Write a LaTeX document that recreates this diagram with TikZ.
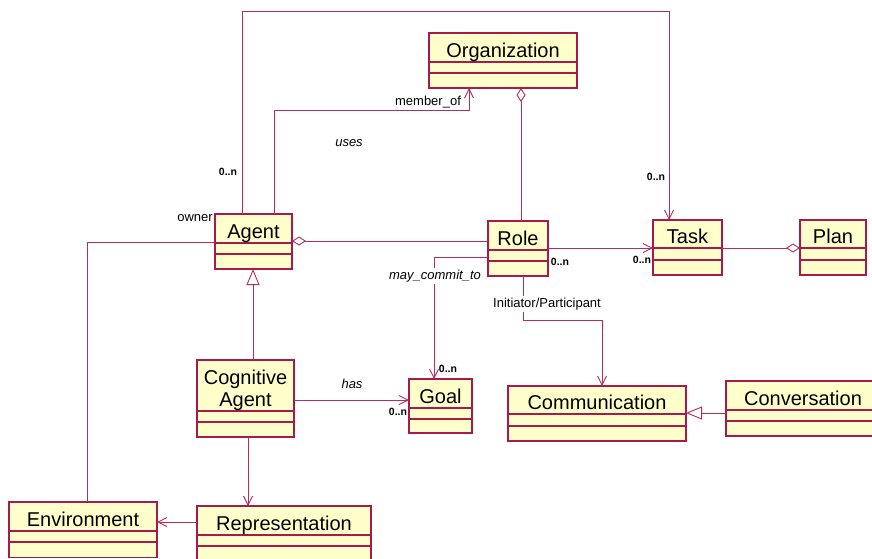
\documentclass[tikz,border=0pt]{standalone}
\usepackage{fontspec}
\setmainfont{Liberation Sans}
\usetikzlibrary{arrows.meta}

\definecolor{umlline}{RGB}{170,25,75}
\definecolor{umlconn}{RGB}{180,45,95}
\definecolor{umlfill}{RGB}{255,255,204}

\tikzset{
  classbox/.style={draw=umlline, line width=1.4pt, fill=umlfill, rectangle,
    inner sep=0pt, outer sep=0pt},
  classname/.style={font=\fontsize{20}{22}\selectfont, inner sep=0pt, anchor=base},
  sepline/.style={draw=umlline, line width=1.2pt},
  conn/.style={draw=umlconn, line width=0.9pt},
  navig/.style={conn, -{Straight Barb[length=9pt,width=9pt,line width=0.9pt]}},
  aggr/.style={conn, {Diamond[open,fill=white,length=14pt,width=9pt,line width=0.9pt]}-},
  gener/.style={conn, -{Triangle[open,fill=white,length=16pt,width=13pt,line width=0.9pt]}},
  lbl/.style={font=\fontsize{13}{15}\selectfont, inner sep=0pt},
  ilbl/.style={font=\fontsize{13}{15}\selectfont\itshape, inner sep=0pt},
  mult/.style={font=\fontsize{10.5}{12}\selectfont\bfseries, inner sep=0pt},
  cover/.style={fill=white, inner sep=1.5pt},
}

% UML class: name, x1, y1, x2, y2, first separator, second separator, title
\newcommand\umlclass[8]{%
  \node[classbox, minimum width={#4-#2}, minimum height={#5-#3}]
    (#1) at ({(#2+#4)/2},{(#3+#5)/2}) {};
  \draw[sepline] (#2,#6) -- (#4,#6);
  \draw[sepline] (#2,#7) -- (#4,#7);
  \node[classname] (#1-name) at ({(#2+#4)/2},{#6-4.5}) {#8};
}

\begin{document}
\begin{tikzpicture}[x=1pt, y=-1pt]
  \useasboundingbox (0,0) rectangle (872,558);
  \clip (0,0) rectangle (872,558);
  \fill[white] (0,0) rectangle (872,558);

  % classes
  \umlclass{org}{429}{33}{577}{88}{62}{73}{Organization}
  \umlclass{agent}{215}{214}{292}{269}{243}{254}{Agent}
  \umlclass{role}{488}{221}{548}{276}{250}{261}{Role}
  \umlclass{task}{653}{220}{722}{275}{248}{260}{Task}
  \umlclass{plan}{800}{220}{866}{275}{248}{260}{Plan}
  \umlclass{cog}{197}{360}{294}{437}{411}{422}{}
  \node[font=\fontsize{20}{22}\selectfont, align=center, inner sep=0pt, anchor=north]
    (cog-text) at (245.5,369.5) {Cognitive\\Agent};
  \umlclass{goal}{409}{379}{472}{433}{408}{419}{Goal}
  \umlclass{comm}{508}{386}{686}{441}{414}{426}{Communication}
  \umlclass{conv}{726}{381}{880}{436}{410}{421}{Conversation}
  \umlclass{env}{9}{502}{157}{557.5}{531}{542}{Environment}
  \umlclass{repr}{197}{506}{371}{564}{535}{546}{Representation}

  % routing guides
  \coordinate (topY) at (0,11);
  \coordinate (agTaskX) at (242,0);
  \coordinate (taskInX) at (669,0);
  \coordinate (agOrgX) at (274,0);
  \coordinate (memberY) at (0,110);
  \coordinate (orgInX) at (469,0);
  \coordinate (orgRoleX) at (521,0);
  \coordinate (agRoleY) at (0,241);
  \coordinate (roleTaskY) at (0,248);
  \coordinate (roleGoalY) at (0,257);
  \coordinate (goalInX) at (434,0);
  \coordinate (roleCommX) at (523,0);
  \coordinate (initY) at (0,320);
  \coordinate (commInX) at (602,0);
  \coordinate (planY) at (0,248);
  \coordinate (genX) at (253,0);
  \coordinate (hasY) at (0,400);
  \coordinate (reprX) at (248,0);
  \coordinate (envY) at (0,522);
  \coordinate (agEnvY) at (0,242);
  \coordinate (envX) at (87,0);
  \coordinate (convY) at (0,413);

  % connectors
  \draw[navig] (agent.north -| agTaskX) |- (taskInX |- topY) -- (task.north -| taskInX);
  \draw[navig] (agent.north -| agOrgX) |- (orgInX |- memberY) -- (org.south -| orgInX);
  \draw[aggr] (org.south -| orgRoleX) -- (role.north -| orgRoleX);
  \draw[aggr] (agent.east |- agRoleY) -- (role.west |- agRoleY);
  \draw[navig] (role.east |- roleTaskY) -- (task.west |- roleTaskY);
  \draw[navig] (role.west |- roleGoalY) -| (goal.north -| goalInX);
  \draw[navig] (role.south -| roleCommX) |- (commInX |- initY) -- (comm.north -| commInX);
  \draw[aggr] (plan.west |- planY) -- (task.east |- planY);
  \draw[gener] (cog.north -| genX) -- (agent.south -| genX);
  \draw[navig] (cog.east |- hasY) -- (goal.west |- hasY);
  \draw[navig] (cog.south -| reprX) -- (repr.north -| reprX);
  \draw[navig] (repr.west |- envY) -- (env.east |- envY);
  \draw[conn] (agent.west |- agEnvY) -| (env.north -| envX);
  \draw[gener] (conv.west |- convY) -- (comm.east |- convY);

  % labels
  \node[mult] (m-agent) at (228,172) {0..n};
  \node[lbl] (l-owner) at (195,218) {owner};
  \node[ilbl] (l-uses) at (349,143) {uses};
  \node[lbl] (l-member) at (428,102) {member\_of};
  \node[mult] (m-tasktop) at (656,177) {0..n};
  \node[mult] (m-role) at (560,262) {0..n};
  \node[mult] (m-taskleft) at (642,260) {0..n};
  \node[ilbl, cover] (l-commit) at (435,276) {may\_commit\_to};
  \node[lbl, cover] (l-init) at (547,304) {Initiator/Participant};
  \node[mult] (m-goaltop) at (448,369) {0..n};
  \node[ilbl] (l-has) at (352,384) {has};
  \node[mult] (m-goalleft) at (398,412) {0..n};
\end{tikzpicture}
\end{document}
